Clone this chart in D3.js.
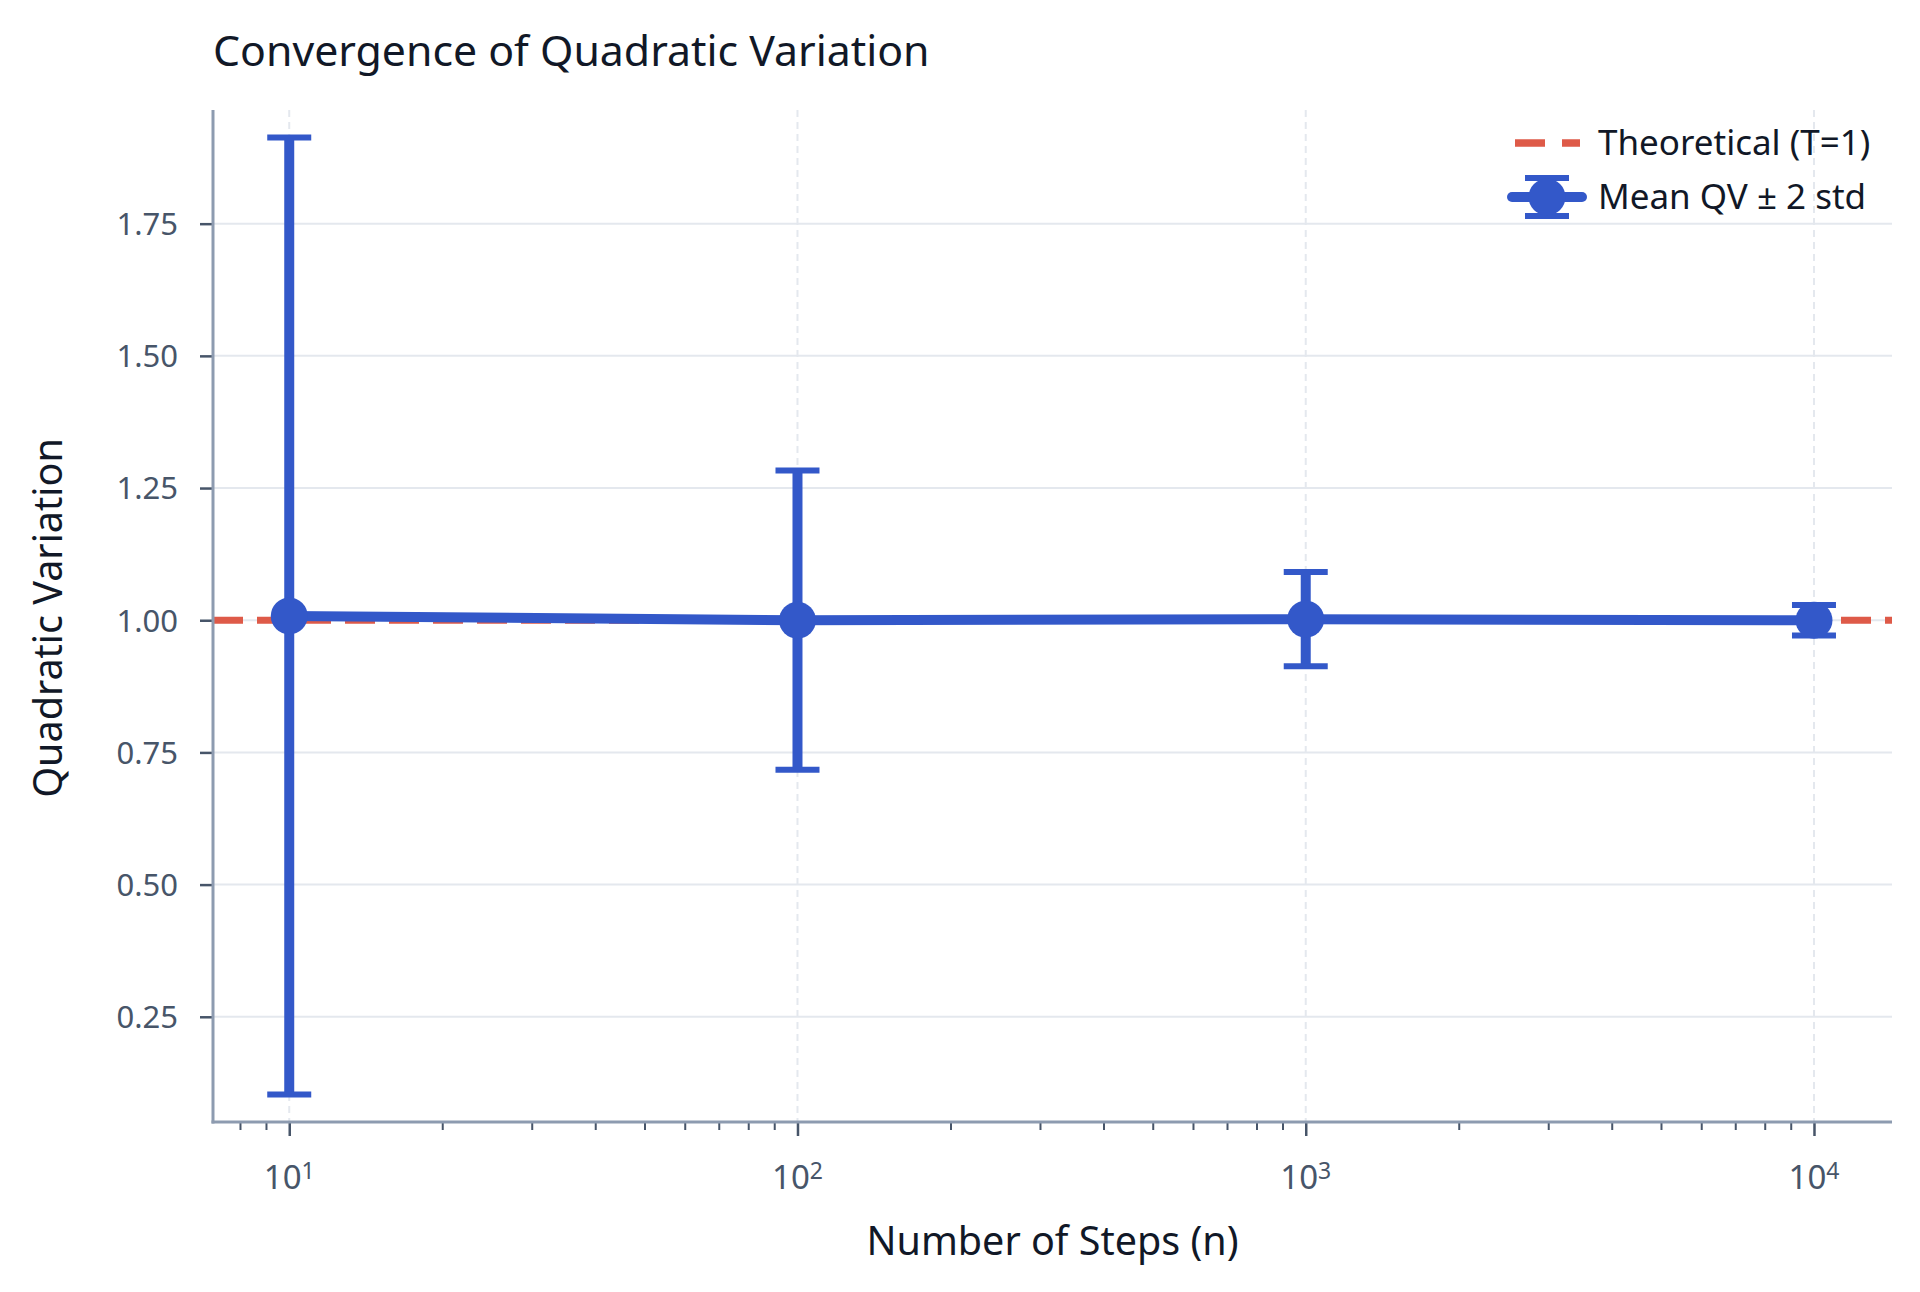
<!DOCTYPE html>
<html>
<head>
<meta charset="utf-8">
<script src="https://cdn.jsdelivr.net/npm/d3@7"></script>
<style>
  html, body { margin: 0; padding: 0; background: #fff; }
  svg text { font-family: "Noto Sans", "Open Sans", sans-serif; }
</style>
</head>
<body>
<svg id="chart" width="1920" height="1292"></svg>
<script>
// ── data ──
const steps = [10, 100, 1000, 10000];
const meanQV = [1.008, 1.000, 1.002, 1.000];
const twoStd = [0.905, 0.283, 0.089, 0.029];
const yTicks = [0.25, 0.50, 0.75, 1.00, 1.25, 1.50, 1.75];
const xMajor = [10, 100, 1000, 10000];
const theoretical = 1;

const W = 1920, H = 1292;
const plot = { left: 213, right: 1892, top: 110, bottom: 1122 };

const blue = '#3358c9';
const red = '#de5a48';
const spineCol = '#8d9bb0';
const tickCol = '#475569';
const gridCol = '#e4e8ee';

const svg = d3.select('#chart');

const x = d3.scaleLog()
  .domain([Math.pow(10, 0.85), Math.pow(10, 4.1535)])
  .range([plot.left, plot.right]);
const y = d3.scaleLinear()
  .domain([0.051, 1.965])
  .range([plot.bottom, plot.top]);

// minor ticks 2..9 x 10^k inside domain
const xMinor = [];
[1, 10, 100, 1000].forEach(b => {
  for (let k = 2; k <= 9; k++) {
    const v = b * k;
    if (v > x.domain()[0] && v < x.domain()[1]) xMinor.push(v);
  }
});

// ── grid ──
svg.append('g')
  .selectAll('line.hgrid')
  .data(yTicks).enter().append('line')
  .attr('x1', plot.left).attr('x2', plot.right)
  .attr('y1', d => y(d)).attr('y2', d => y(d))
  .attr('stroke', gridCol).attr('stroke-width', 2);

svg.append('g')
  .selectAll('line.vgrid')
  .data(xMajor).enter().append('line')
  .attr('x1', d => x(d)).attr('x2', d => x(d))
  .attr('y1', plot.top).attr('y2', plot.bottom)
  .attr('stroke', gridCol).attr('stroke-width', 2)
  .attr('stroke-dasharray', '7,5');

// ── theoretical line ──
svg.append('line')
  .attr('x1', plot.left).attr('x2', plot.right)
  .attr('y1', y(theoretical)).attr('y2', y(theoretical))
  .attr('stroke', red).attr('stroke-width', 7)
  .attr('stroke-dasharray', '30,14');

// ── error bars ──
const pts = steps.map((n, i) => ({ n, m: meanQV[i], e: twoStd[i] }));
const eb = svg.append('g');
eb.selectAll('line.bar').data(pts).enter().append('line')
  .attr('x1', d => x(d.n)).attr('x2', d => x(d.n))
  .attr('y1', d => y(d.m + d.e)).attr('y2', d => y(d.m - d.e))
  .attr('stroke', blue).attr('stroke-width', 10);
['top', 'bot'].forEach(side => {
  eb.selectAll('line.cap-' + side).data(pts).enter().append('line')
    .attr('x1', d => x(d.n) - 22).attr('x2', d => x(d.n) + 22)
    .attr('y1', d => y(side === 'top' ? d.m + d.e : d.m - d.e))
    .attr('y2', d => y(side === 'top' ? d.m + d.e : d.m - d.e))
    .attr('stroke', blue).attr('stroke-width', 6);
});

// ── mean line + markers ──
svg.append('path').datum(pts)
  .attr('fill', 'none').attr('stroke', blue).attr('stroke-width', 10)
  .attr('d', d3.line().x(d => x(d.n)).y(d => y(d.m)));
svg.selectAll('circle.pt').data(pts).enter().append('circle')
  .attr('cx', d => x(d.n)).attr('cy', d => y(d.m))
  .attr('r', 18.5).attr('fill', blue);

// ── axes ──
const yAxis = svg.append('g')
  .attr('transform', `translate(${plot.left},0)`)
  .call(d3.axisLeft(y).tickValues(yTicks).tickSize(13).tickPadding(22)
    .tickFormat(d3.format('.2f')));
yAxis.select('.domain').remove();
yAxis.selectAll('line').attr('stroke', tickCol).attr('stroke-width', 2.5);
yAxis.selectAll('text')
  .attr('fill', tickCol).style('font-size', '31px')
  .attr('dy', '0.35em');

const xAxis = svg.append('g')
  .attr('transform', `translate(0,${plot.bottom})`)
  .call(d3.axisBottom(x).tickValues(xMajor).tickSize(14).tickFormat(''));
xAxis.select('.domain').remove();
xAxis.selectAll('line').attr('stroke', tickCol).attr('stroke-width', 2.5);

const xMinorAxis = svg.append('g')
  .attr('transform', `translate(0,${plot.bottom})`)
  .call(d3.axisBottom(x).tickValues(xMinor).tickSize(8).tickFormat(''));
xMinorAxis.select('.domain').remove();
xMinorAxis.selectAll('line').attr('stroke', tickCol).attr('stroke-width', 2);

// x tick labels 10^k
const xl = svg.append('g').selectAll('text.xt').data(xMajor).enter().append('text')
  .attr('x', d => x(d)).attr('y', 1189)
  .attr('text-anchor', 'middle')
  .attr('fill', tickCol).style('font-size', '33px');
xl.append('tspan').text('10');
xl.append('tspan').attr('dy', '-0.45em').style('font-size', '23px')
  .text(d => Math.round(Math.log10(d)));

// spines
svg.append('line')
  .attr('x1', plot.left).attr('x2', plot.left)
  .attr('y1', plot.top).attr('y2', plot.bottom + 1.5)
  .attr('stroke', spineCol).attr('stroke-width', 3);
svg.append('line')
  .attr('x1', plot.left - 1.5).attr('x2', plot.right)
  .attr('y1', plot.bottom).attr('y2', plot.bottom)
  .attr('stroke', spineCol).attr('stroke-width', 3);

// ── titles ──
svg.append('text')
  .attr('x', 213).attr('y', 66)
  .attr('fill', '#111827').style('font-size', '42.8px')
  .text('Convergence of Quadratic Variation');

svg.append('text')
  .attr('x', (plot.left + plot.right) / 2).attr('y', 1255)
  .attr('text-anchor', 'middle')
  .attr('fill', '#111827').style('font-size', '39.5px')
  .text('Number of Steps (n)');

svg.append('text')
  .attr('transform', `translate(62,${(plot.top + plot.bottom) / 2 + 2}) rotate(-90)`)
  .attr('text-anchor', 'middle')
  .attr('fill', '#111827').style('font-size', '39.5px')
  .text('Quadratic Variation');

// ── legend ──
const lg = svg.append('g');
lg.append('line')
  .attr('x1', 1515).attr('x2', 1580).attr('y1', 143).attr('y2', 143)
  .attr('stroke', red).attr('stroke-width', 7.5)
  .attr('stroke-dasharray', '30,17');
lg.append('line')
  .attr('x1', 1512).attr('x2', 1582).attr('y1', 197).attr('y2', 197)
  .attr('stroke', blue).attr('stroke-width', 10).attr('stroke-linecap', 'round');
lg.append('line')
  .attr('x1', 1547).attr('x2', 1547).attr('y1', 178).attr('y2', 216)
  .attr('stroke', blue).attr('stroke-width', 10);
[178, 216].forEach(cy => {
  lg.append('line')
    .attr('x1', 1525).attr('x2', 1569).attr('y1', cy).attr('y2', cy)
    .attr('stroke', blue).attr('stroke-width', 6);
});
lg.append('circle').attr('cx', 1547).attr('cy', 197).attr('r', 18.5).attr('fill', blue);
lg.append('text').attr('x', 1598).attr('y', 155)
  .attr('fill', '#111827').style('font-size', '35px')
  .text('Theoretical (T=1)');
lg.append('text').attr('x', 1598).attr('y', 209)
  .attr('fill', '#111827').style('font-size', '35px')
  .text('Mean QV ± 2 std');
</script>
</body>
</html>
